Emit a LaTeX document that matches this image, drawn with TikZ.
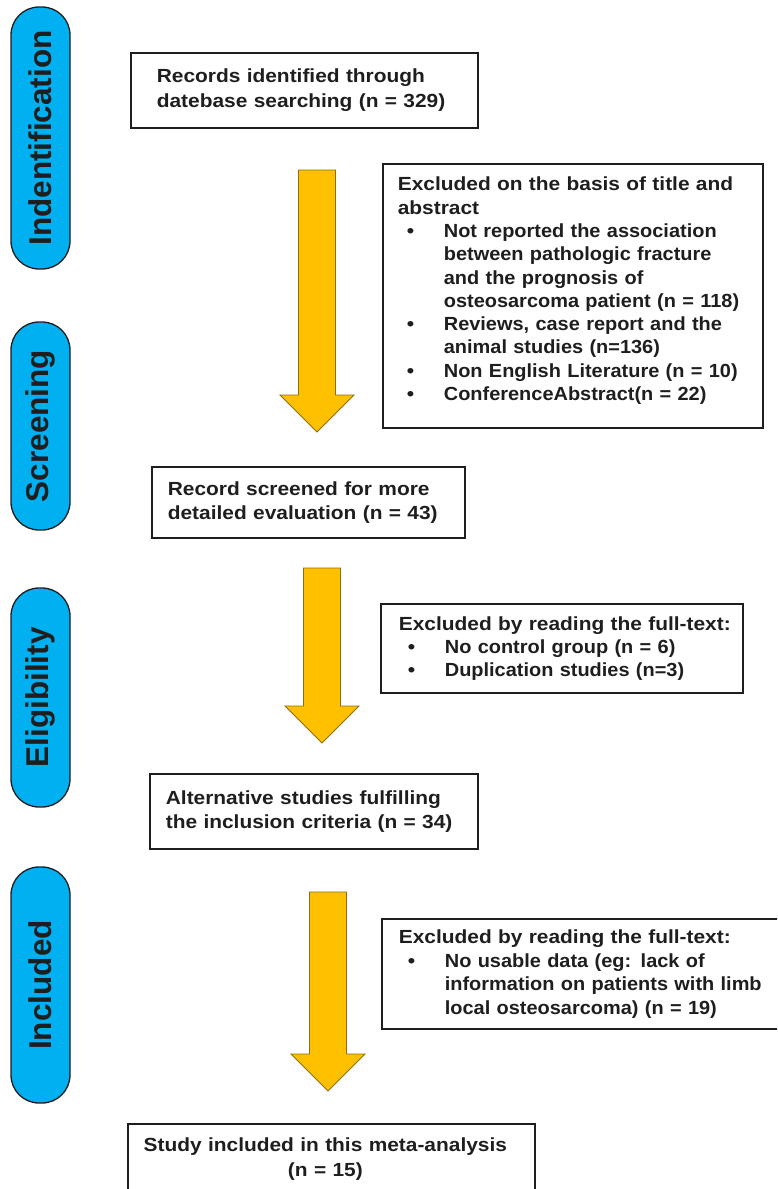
\documentclass[tikz,border=0pt]{standalone}
\usepackage{fontspec}
\setmainfont{Liberation Sans}
\newfontfamily\boxfont{Liberation Sans}[FakeStretch=1.1]
\newfontfamily\itemfont{Liberation Sans}[FakeStretch=1.05]
\usetikzlibrary{calc}
\definecolor{pillblue}{HTML}{00B0F0}
\definecolor{gold}{HTML}{FFC000}
\definecolor{goldedge}{HTML}{8C6D10}
\definecolor{inkc}{HTML}{1E1E1E}
\newcommand\oneline[1]{\mbox{#1}}
\newcommand\bulline[1]{\mbox{\makebox[46pt][l]{\hspace{9pt}\textbullet}{\itemfont\bfseries #1}}}
\newcommand\contline[1]{\mbox{\hspace*{46pt}{\itemfont\bfseries #1}}}
\begin{document}
\begin{tikzpicture}[x=1pt,y=-1pt,
  pill/.style={draw=inkc, line width=1.3pt, fill=pillblue, rounded corners=28pt,
    minimum height=59pt, rotate=90, inner sep=0pt, text=inkc,
    font=\fontsize{31.5}{36}\selectfont\bfseries},
  box/.style={draw=inkc, line width=1.7pt, anchor=north west, align=left, inner ysep=0pt,
    text=inkc, font=\boxfont\bfseries\fontsize{19}{24.5}\selectfont},
  exbox/.style={box, font=\boxfont\bfseries\fontsize{19}{23.3}\selectfont},
  blockarrow/.style={fill=gold, draw=goldedge, line width=0.9pt,
    to path={let \p1=(\tikztostart), \p2=(\tikztotarget) in
      (\x1-18.5pt,\y1) -- (\x1+18.5pt,\y1) -- (\x1+18.5pt,\y2+37pt) -- (\x1+37pt,\y2+37pt)
      -- (\x2,\y2) -- (\x1-37pt,\y2+37pt) -- (\x1-18.5pt,\y2+37pt) -- cycle}}
]
\clip (0,0) rectangle (777,1189);

% phase labels
\node[pill, minimum width=262pt] (pid) at (40.5,138) {Indentification};
\node[pill, minimum width=208pt] (pscr) at (40.5,426) {Screening};
\node[pill, minimum width=219pt] (pel) at (40.5,697.5) {Eligibility};
\node[pill, minimum width=236pt] (pinc) at (40.5,985) {Included};

% main boxes
\node[box, text width=295pt, inner xsep=26pt, minimum height=75pt] (rec) at (130,52)
  {\oneline{Records identified through}\\\oneline{datebase searching (n = 329)}};
\node[box, text width=281pt, inner xsep=16pt, minimum height=71pt] (scr) at (151,466)
  {\oneline{Record screened for more}\\\oneline{detailed evaluation (n = 43)}};
\node[box, text width=296pt, inner xsep=16pt, minimum height=75pt] (alt) at (149,773)
  {\oneline{Alternative studies fulfilling}\\\oneline{the inclusion criteria (n = 34)}};
\node[box, align=center, text width=387pt, inner xsep=10pt, minimum height=70pt] (inc) at (127,1123)
  {\oneline{Study included in this meta-analysis\hspace*{12pt}}\\\oneline{(n = 15)\hspace*{12pt}}};

% exclusion boxes
\node[exbox, text width=350pt, inner xsep=15pt, minimum height=264pt] (ex1) at (382,163)
  {\oneline{Excluded on the basis of title and}\\
   \oneline{abstract}\\
   \bulline{Not reported the association}\\
   \contline{between pathologic fracture}\\
   \contline{and the prognosis of}\\
   \contline{osteosarcoma patient (n = 118)}\\
   \bulline{Reviews, case report and the}\\
   \contline{animal studies (n=136)}\\
   \bulline{Non English Literature (n = 10)}\\
   \bulline{ConferenceAbstract(n = 22)\rule[-14pt]{0pt}{0pt}}};
\node[exbox, text width=326pt, inner xsep=18pt, minimum height=89pt,
  font=\boxfont\bfseries\fontsize{19}{23}\selectfont] (ex2) at (380,603)
  {\oneline{Excluded by reading the full-text:}\\
   \bulline{No control group (n = 6)}\\
   \bulline{Duplication studies (n=3)}};
\node[exbox, text width=366pt, inner xsep=17pt, minimum height=110pt,
  font=\boxfont\bfseries\fontsize{19}{23.5}\selectfont] (ex3) at (381,918)
  {\oneline{Excluded by reading the full-text:}\\
   \bulline{No usable data (eg: lack of}\\
   \contline{information on patients with limb}\\
   \contline{local osteosarcoma) (n = 19)}};

% block arrows
\coordinate (a1s) at (317,170); \coordinate (a1e) at (317,432);
\coordinate (a2s) at (322,568); \coordinate (a2e) at (322,743);
\coordinate (a3s) at (328,892); \coordinate (a3e) at (328,1091);
\draw[blockarrow] (a1s) to (a1e);
\draw[blockarrow] (a2s) to (a2e);
\draw[blockarrow] (a3s) to (a3e);
\end{tikzpicture}
\end{document}
